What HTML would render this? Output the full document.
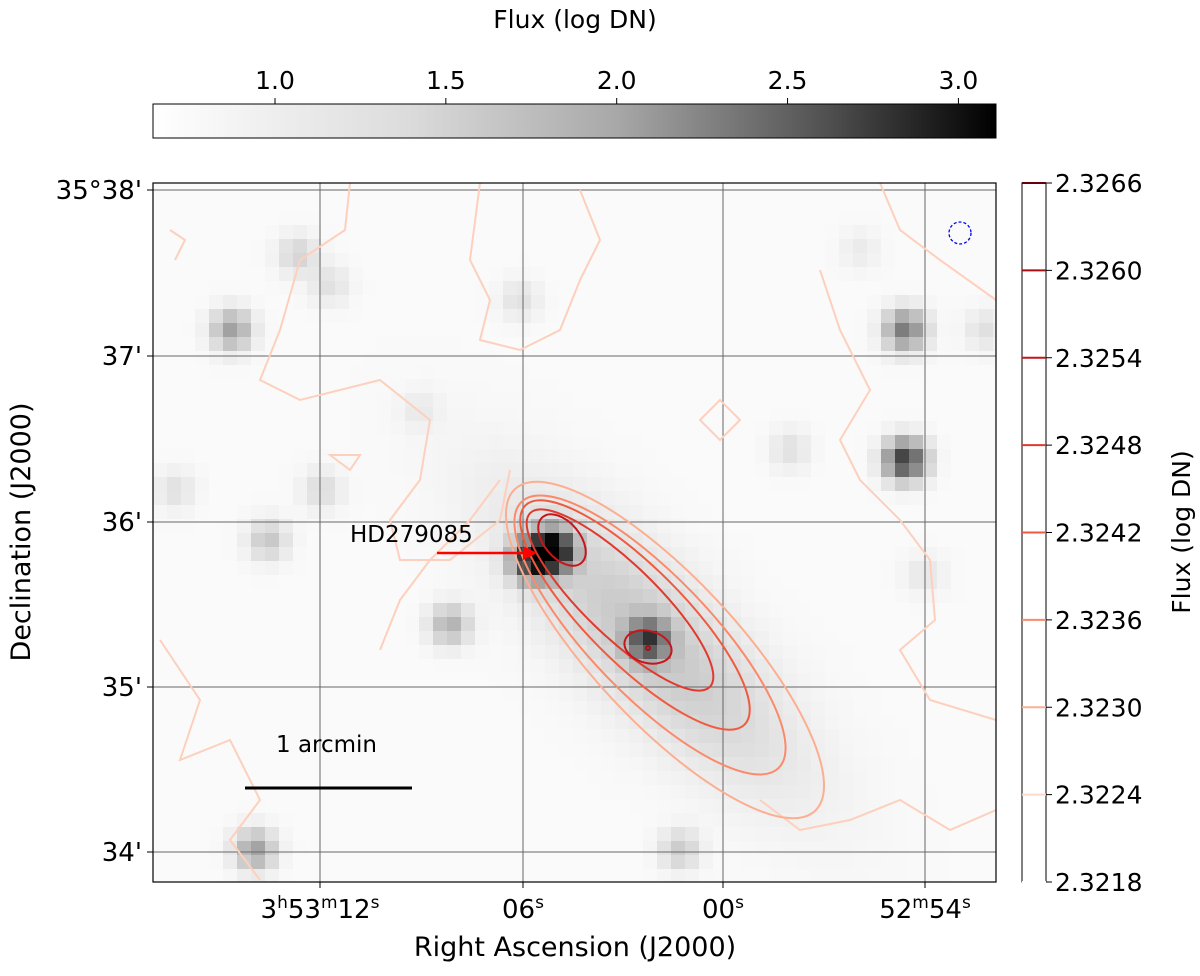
<!DOCTYPE html>
<html><head><meta charset="utf-8">
<style>
body{margin:0;background:#fff;font-family:"Liberation Sans","DejaVu Sans",sans-serif;}
svg text{font-family:"DejaVu Sans","Liberation Sans",sans-serif;}
</style></head>
<body>
<svg id="fig" width="1200" height="971" xmlns="http://www.w3.org/2000/svg">
<defs>
<linearGradient id="gbar" x1="0" x2="1" y1="0" y2="0">
<stop offset="0" stop-color="#ffffff"/><stop offset="0.3" stop-color="#dcdcdc"/><stop offset="0.55" stop-color="#a8a8a8"/><stop offset="0.8" stop-color="#505050"/><stop offset="1" stop-color="#000"/>
</linearGradient>
<clipPath id="clipImg"><rect x="153" y="183" width="843" height="699"/></clipPath>
</defs>
<g id="image" clip-path="url(#clipImg)"></g>
<g id="grid"></g>
<g id="contours" clip-path="url(#clipImg)"></g>
<rect x="153" y="183" width="843" height="699" fill="none" stroke="#000" stroke-width="1.2"/>
<g id="ticks"></g>
<text x="575" y="956" font-size="27" text-anchor="middle">Right Ascension (J2000)</text>
<text transform="translate(30,532) rotate(-90)" font-size="27" text-anchor="middle">Declination (J2000)</text>
<text x="575" y="28" font-size="25" text-anchor="middle">Flux (log DN)</text>
<rect x="153" y="104" width="843" height="34" fill="url(#gbar)" stroke="#000" stroke-width="1"/>
<g id="topticks"></g>
<rect x="1022" y="183" width="24" height="699" fill="#fff" stroke="#000" stroke-width="1"/>
<g id="rightticks"></g>
<text transform="translate(1190,532) rotate(-90)" font-size="25" text-anchor="middle">Flux (log DN)</text>
<text x="350" y="542" font-size="23">HD279085</text>
<line x1="437" y1="553" x2="525" y2="553" stroke="#f00" stroke-width="2.5"/>
<polygon points="537,553 523,546 523,560" fill="#f00"/>
<line x1="245" y1="788" x2="412" y2="788" stroke="#000" stroke-width="3"/>
<text x="276" y="752" font-size="23">1 arcmin</text>
<circle cx="960" cy="233" r="11" fill="none" stroke="#00f" stroke-width="1.3" stroke-dasharray="3,2"/>
</svg>
<script>
const NS="http://www.w3.org/2000/svg";
const srcX=[553,532,648,905,905,232,255,450,268,298,680,322,330,175,925,520,860,790,985,420];
const srcY=[550,560,640,460,330,330,850,625,540,255,850,490,285,490,575,300,250,450,330,410];
const srcAmp=[0.95,0.75,0.6,0.75,0.5,0.35,0.35,0.28,0.2,0.15,0.18,0.12,0.1,0.1,0.08,0.1,0.06,0.1,0.1,0.06];
const topTickVals=[1.0,1.5,2.0,2.5,3.0];
const rightTickVals=[2.3266,2.3260,2.3254,2.3248,2.3242,2.3236,2.3230,2.3224,2.3218];
const levelColors=["#67000d","#a50f15","#c4161c","#e03a2f","#f05a3f","#fb8a6a","#fcae91","#fdd9c8","#fff"];
const raMain=["3","53","12","06","00","52","54"];
const raPos=[320,523,723,925];
const decLabels=["35°38'","37'","36'","35'","34'"];
const decPos=[190,356,522,687,852];
const cLevel=[6,5,4,3,2,2,1];
const cX=[665,650,635,620,562,648,648];
const cY=[650,635,615,600,540,647,648];
const cA=[220,185,155,125,30,24,2];
const cB=[72,60,48,36,18,16,2];
const cAng=[47,46,45,44,50,15,0];
function el(t,a,p){const e=document.createElementNS(NS,t);for(const k in a)e.setAttribute(k,a[k]);(p||document.getElementById('fig')).appendChild(e);return e;}
const img=document.getElementById('image');
const cs=14;
for(let y=183;y<882;y+=cs){for(let x=153;x<996;x+=cs){
 let d=0.02;const cx=x+cs/2,cy=y+cs/2;const dx=cx-650,dy=cy-640;
 const u=(dx+dy)*0.707,v=(dx-dy)*0.707;
 d+=0.2*Math.exp(-(u*u/(2*130*130)+v*v/(2*45*45)));
 for(let i=0;i<srcX.length;i++){d+=srcAmp[i]*Math.exp(-((cx-srcX[i])**2+(cy-srcY[i])**2)/(2*14*14));}
 d=Math.min(1,d);const g=Math.round(255*(1-d));
 const r=el('rect',{x:x,y:y,width:cs,height:cs,fill:`rgb(${g},${g},${g})`},img);
 
 
}}
const grid=document.getElementById('grid');
raPos.forEach(x=>{const l=el('line',{x1:x,y1:183,x2:x,y2:882,stroke:'#666','stroke-width':1},grid);});
decPos.forEach(y=>{const l=el('line',{x1:153,y1:y,x2:996,y2:y,stroke:'#666','stroke-width':1},grid);});
const ticks=document.getElementById('ticks');
function raLabel(x,parts){const t=el('text',{x:x,y:918,'font-size':26,'text-anchor':'middle'},ticks);
 parts.forEach(p=>{const a=document.createElementNS(NS,'tspan');a.textContent=p[0];t.appendChild(a);if(p[1]){const b=document.createElementNS(NS,'tspan');b.textContent=p[1];b.setAttribute('font-size','17');b.setAttribute('baseline-shift','super');t.appendChild(b);}});
 }
raLabel(raPos[0],[[raMain[0],'h'],[raMain[1],'m'],[raMain[2],'s']]);
raLabel(raPos[1],[[raMain[3],'s']]);
raLabel(raPos[2],[[raMain[4],'s']]);
raLabel(raPos[3],[[raMain[5],'m'],[raMain[6],'s']]);
decLabels.forEach((s,i)=>{const t=el('text',{x:142,y:decPos[i]+9,'font-size':26,'text-anchor':'end'},ticks);t.textContent=s;});
raPos.forEach(x=>{el('line',{x1:x,y1:882,x2:x,y2:888,stroke:'#000'},ticks);});
decPos.forEach(y=>{el('line',{x1:147,y1:y,x2:153,y2:y,stroke:'#000'},ticks);});
const tt=document.getElementById('topticks');
const vx=v=>153+(v-0.643)/(3.11-0.643)*843;
topTickVals.forEach(v=>{const x=vx(v);el('line',{x1:x,y1:98,x2:x,y2:104,stroke:'#000'},tt);const t=el('text',{x:x,y:89,'font-size':25,'text-anchor':'middle'},tt);t.textContent=v.toFixed(1);});
const rt=document.getElementById('rightticks');
const vy=v=>882-(v-2.3218)/(2.3266-2.3218)*699;
rightTickVals.forEach((v,i)=>{const y=vy(v);el('line',{x1:1022,y1:y,x2:1046,y2:y,stroke:levelColors[i],'stroke-width':2},rt);el('line',{x1:1046,y1:y,x2:1052,y2:y,stroke:'#000'},rt);const t=el('text',{x:1055,y:y+9,'font-size':25},rt);t.textContent=v.toFixed(4);});
const cg=document.getElementById('contours');
const faint=["M170,230 L185,240 L175,260","M350,183 L345,230 L300,260 L280,330 L260,380 L300,400 L380,380 L430,420 L420,480 L390,520 L400,560 L450,560 L500,520 L510,470","M480,183 L470,260 L490,300 L480,340 L520,350 L560,330 L580,280 L600,240 L580,190","M820,270 L840,330 L870,390 L840,440 L860,480 L900,520 L930,560 L935,620 L900,650 L930,700 L996,720","M160,640 L200,700 L180,760 L230,740 L260,800 L230,840 L260,880","M760,800 L800,830 L850,820 L900,800 L950,830 L996,810","M880,183 L900,230 L940,260 L996,300","M700,420 L720,440 L740,420 L720,400 Z","M330,455 L350,470 L360,455 Z","M500,480 L470,520 L430,560 L400,600 L380,650"];
faint.forEach(d=>{const p=el('path',{d:d,fill:'none',stroke:'#fdd0bd','stroke-width':2},cg);});
cLevel.forEach((li,i)=>{const e=el('ellipse',{cx:cX[i],cy:cY[i],rx:cA[i],ry:cB[i],transform:`rotate(${cAng[i]} ${cX[i]} ${cY[i]})`,fill:'none',stroke:levelColors[li],'stroke-width':2},cg);});
</script>
</body></html>
